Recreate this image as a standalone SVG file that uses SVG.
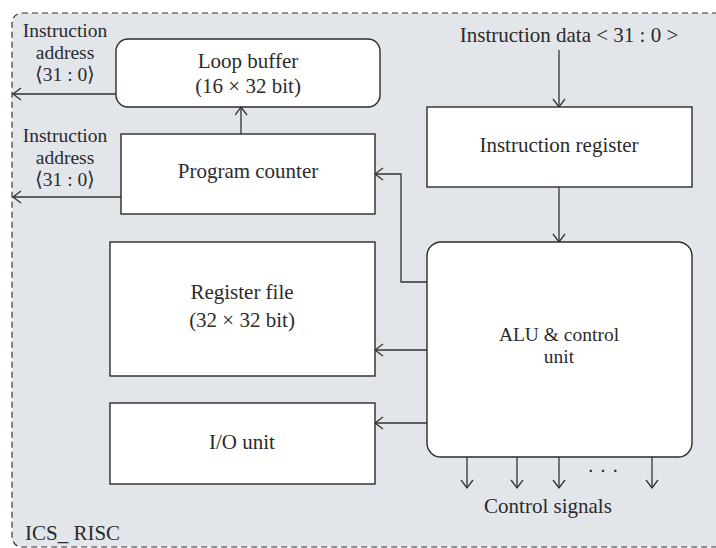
<svg xmlns="http://www.w3.org/2000/svg" width="716" height="548" viewBox="0 0 716 548">
  <defs>
    <marker id="arr" markerUnits="userSpaceOnUse" markerWidth="12" markerHeight="14" refX="9" refY="6.5" orient="auto">
      <path d="M1,0.5 L9,6.5 L1,12.5" fill="none" stroke="#333" stroke-width="1.3"/>
    </marker>
  </defs>
  <style>
    text { font-family: "Liberation Serif", "Times New Roman", serif; font-size: 21px; fill: #2b2b2b; text-anchor: middle; }
    .stack { font-size: 19.5px; }
    .box { fill: #ffffff; stroke: #2b2b2b; stroke-width: 1.4; }
    .wire { fill: none; stroke: #333; stroke-width: 1.3; marker-end: url(#arr); }
  </style>

  <!-- ICS_RISC boundary -->
  <g id="ics-risc">
    <rect x="12" y="13" width="730" height="534" rx="10" ry="10" fill="#e2e5ea" stroke="#333" stroke-width="1.2" stroke-dasharray="6,4"/>
    <text x="25" y="540" style="text-anchor:start">ICS_ RISC</text>
  </g>

  <g id="connectors">
    <path class="wire" d="M116,94 L13,94"/>
    <path class="wire" d="M121,197 L13,197"/>
    <path class="wire" d="M241,134 L241,107"/>
    <path class="wire" d="M559,50 L559,107"/>
    <path class="wire" d="M559,187 L559,242"/>
    <path class="wire" d="M427,282 L401,282 L401,174 L375,174"/>
    <path class="wire" d="M427,350 L375,350"/>
    <path class="wire" d="M427,423 L375,423"/>
    <path class="wire" d="M467,457 L467,488"/>
    <path class="wire" d="M517,457 L517,488"/>
    <path class="wire" d="M559,457 L559,488"/>
    <path class="wire" d="M652,457 L652,488"/>
  </g>

  <g id="addr-label-1">
    <text class="stack" x="65" y="37">Instruction</text>
    <text class="stack" x="65" y="59">address</text>
    <text class="stack" x="65" y="81">⟨31 : 0⟩</text>
  </g>
  <g id="addr-label-2">
    <text class="stack" x="65" y="142">Instruction</text>
    <text class="stack" x="65" y="164">address</text>
    <text class="stack" x="65" y="186">⟨31 : 0⟩</text>
  </g>

  <g id="loop-buffer">
    <rect class="box" x="116" y="39" width="264" height="68" rx="12" ry="12"/>
    <text x="248" y="68">Loop buffer</text>
    <text x="248" y="93">(16 × 32 bit)</text>
  </g>

  <g id="program-counter">
    <rect class="box" x="121" y="134" width="254" height="80"/>
    <text x="248" y="178">Program counter</text>
  </g>

  <g id="instruction-data">
    <text x="569" y="42">Instruction data &lt; 31 : 0 &gt;</text>
  </g>

  <g id="instruction-register">
    <rect class="box" x="427" y="107" width="265" height="80"/>
    <text x="559" y="152">Instruction register</text>
  </g>

  <g id="alu-control">
    <rect class="box" x="427" y="242" width="265" height="215" rx="14" ry="14"/>
    <text class="stack" x="559" y="341">ALU &amp; control</text>
    <text class="stack" x="559" y="363">unit</text>
  </g>

  <g id="register-file">
    <rect class="box" x="110" y="242" width="265" height="134"/>
    <text x="242" y="299">Register file</text>
    <text x="242" y="327">(32 × 32 bit)</text>
  </g>

  <g id="io-unit">
    <rect class="box" x="110" y="403" width="265" height="81"/>
    <text x="242" y="449">I/O unit</text>
  </g>

  <g id="control-signals">
    <text x="603" y="478">· · ·</text>
    <text x="548" y="513">Control signals</text>
  </g>
</svg>
